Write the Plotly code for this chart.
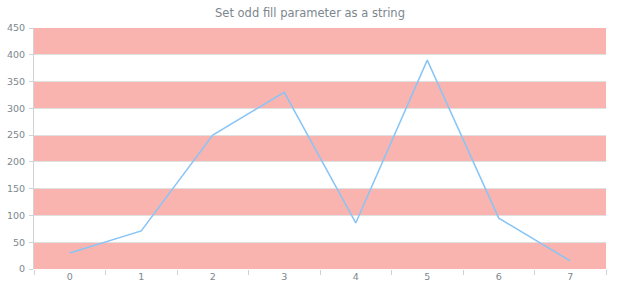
import plotly.graph_objects as go

categories = ["0", "1", "2", "3", "4", "5", "6", "7"]
values = [30, 71, 250, 330, 86, 390, 95, 15]
y_ticks = [0, 50, 100, 150, 200, 250, 300, 350, 400, 450]
title = "Set odd fill parameter as a string"

band_color = "#FAB4AF"
line_color = "#88C4F6"
text_color = "#7c868e"
grid_color = "#e0e0e0"

shapes = []
for i in range(len(y_ticks) - 1):
    if i % 2 == 0:
        shapes.append(dict(type="rect", xref="paper", yref="y", x0=0, x1=1,
                           y0=y_ticks[i], y1=y_ticks[i + 1],
                           fillcolor=band_color, line_width=0, layer="below"))

fig = go.Figure()
fig.add_trace(go.Scatter(x=categories, y=values, mode="lines",
                         line=dict(color=line_color, width=1.5), hoverinfo="skip"))

fig.update_layout(
    width=620, height=300,
    margin=dict(l=34, r=14, t=28, b=31, autoexpand=False),
    paper_bgcolor="white", plot_bgcolor="rgba(0,0,0,0)",
    showlegend=False,
    shapes=shapes,
    font=dict(family="DejaVu Sans", size=9.5, color=text_color),
    title=dict(text=title, x=0.5, xanchor="center", y=1 - 13 / 300, yanchor="middle",
               font=dict(family="DejaVu Sans", size=11.5, color=text_color)),
)
fig.update_xaxes(type="category", range=[-0.5, 7.5], tickson="boundaries",
                 ticks="outside", ticklen=5, tickcolor="#cfd3d6", automargin=False,
                 showgrid=False, showline=False, zeroline=False,
                 tickfont=dict(size=9.5, color=text_color))
fig.update_yaxes(range=[0, 450], tickvals=y_ticks, ticks="outside", ticklen=4,
                 tickcolor="#cfd3d6", showgrid=True, gridcolor=grid_color, gridwidth=1,
                 showline=True, linecolor="#cfd3d6", linewidth=1, zeroline=False,
                 automargin=False, ticklabelstandoff=2,
                 tickfont=dict(size=9.5, color=text_color))

fig.write_html("out.html")
